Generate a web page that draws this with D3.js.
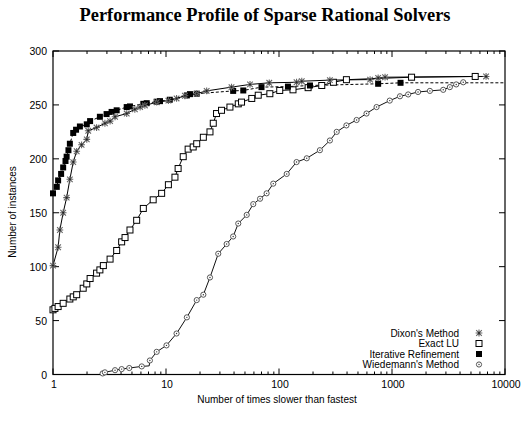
<!DOCTYPE html>
<html><head><meta charset="utf-8">
<script src="https://cdn.jsdelivr.net/npm/d3@7"></script>
<style>body{margin:0;background:#fff}svg{display:block}</style>
</head><body>
<svg id="c" width="530" height="421"></svg>
<script>
const title = "Performance Profile of Sparse Rational Solvers";
const xLabel = "Number of times slower than fastest";
const yLabel = "Number of instances";
const xTicks = [1, 10, 100, 1000, 10000];
const yTicks = [0, 50, 100, 150, 200, 250, 300];
const seriesNames = ["Dixon's Method", "Exact LU", "Iterative Refinement", "Wiedemann's Method"];

const dixonX = [1, 1.11, 1.15, 1.23, 1.32, 1.41, 1.51, 1.62, 1.79, 1.99, 2.05, 2.43, 2.88, 3.2, 3.54, 4.49, 5.3, 5.9, 6.5, 8.27, 10.5, 12.4, 14.7, 18.7, 22.9, 38, 55.4, 82, 143, 159, 282, 640, 754, 868, 6800];
const dixonY = [101, 118, 134, 150, 164, 181, 197, 207, 213, 218, 226, 229, 233, 235, 239, 242, 246, 248, 249.5, 252.5, 254, 256, 258.5, 260.5, 263, 266.5, 269, 270.5, 271, 272, 273, 273.5, 275, 275.7, 276.4];

const luX = [1, 1.04, 1.11, 1.23, 1.41, 1.51, 1.62, 1.85, 1.99, 2.13, 2.43, 2.6, 2.79, 3.2, 3.66, 4.05, 4.34, 4.8, 5.5, 6.3, 7.7, 9.15, 10.5, 12, 12.8, 14.2, 15.7, 17.4, 18.7, 21.4, 24.5, 26.2, 28, 31, 36.8, 43.6, 46.6, 57.4, 65.5, 83, 101.5, 133, 181, 239, 303, 395, 1490, 5450];
const luY = [60, 61.3, 63, 66, 70, 72, 74, 80, 84, 89, 94, 97, 101, 107, 115, 123, 127, 134, 143, 154, 162, 168, 176, 183, 191, 202, 209, 211, 214, 220, 225, 233, 242, 245, 248, 251, 252.6, 256, 259, 260.4, 263.4, 264, 266, 268, 271, 273.4, 275.7, 276.4];

const irX = [1, 1.08, 1.11, 1.18, 1.23, 1.29, 1.32, 1.37, 1.41, 1.51, 1.6, 1.73, 1.99, 2.13, 2.6, 2.98, 3.3, 3.66, 4.49, 4.8, 6.3, 6.75, 8.27, 8.85, 10.8, 15.3, 16.3, 18.7, 39.3, 48.3, 70, 120, 188, 754, 1190, 10000];
const irY = [168, 174, 180, 186, 192, 198, 202, 208, 214, 224, 227, 230, 232, 235, 239, 241.5, 243.5, 245, 248, 248.6, 251, 251.6, 253, 253.5, 254.8, 258.8, 260, 260.4, 263, 263.4, 266.5, 267, 268, 269.6, 270.5, 270.5];
const irMarkedCount = 35; // the final entry only ends the dashed line

const wiX = [2.75, 2.88, 3.54, 4.05, 4.73, 6.1, 7.1, 7.2, 8.27, 10.1, 12.4, 15.3, 18.7, 21.4, 24.5, 29, 34.4, 39.3, 43.6, 51.8, 59.2, 68, 77.7, 89, 117, 143, 176, 230, 282, 324, 395, 486, 595, 730, 955, 1176, 1390, 1700, 2165, 2840, 3250, 3700, 4270];
const wiY = [1, 2, 4, 5, 6, 7.5, 8, 13, 21, 27, 38, 53, 69, 74, 90, 112, 121, 128, 140, 148, 158, 163, 168, 177, 186, 197, 200.5, 208, 217, 225, 231, 236, 242, 248, 254, 258, 259.7, 262, 263, 264, 266.5, 269, 271];
const wiUnmarked = [6]; // corner of the flat stretch, no marker there

const svg = d3.select("#c");
const L = 53, R = 505, T = 51, B = 374.5;
const x = d3.scaleLog().domain([1, 10000]).range([L, R]);
const y = d3.scaleLinear().domain([0, 300]).range([B, T]);
const sans = "'Liberation Sans', Arial, Helvetica, sans-serif";

svg.append("text").attr("x", 265).attr("y", 21).attr("text-anchor", "middle")
  .attr("font-family", "'Liberation Serif', 'Times New Roman', serif").attr("font-weight", "bold")
  .attr("font-size", 18.4).text(title);

// frame
svg.append("rect").attr("x", L).attr("y", T).attr("width", R - L).attr("height", B - T)
  .attr("fill", "none").attr("stroke", "#000").attr("stroke-width", 1.2);

// ticks (inside, mirrored)
const minor = [];
for (let d = 1; d < 10000; d *= 10) for (let k = 2; k <= 9; k++) minor.push(d * k);
const tg = svg.append("g").attr("stroke", "#000").attr("stroke-width", 1);
minor.forEach(v => {
  tg.append("line").attr("x1", x(v)).attr("x2", x(v)).attr("y1", B).attr("y2", B - 3);
  tg.append("line").attr("x1", x(v)).attr("x2", x(v)).attr("y1", T).attr("y2", T + 3);
});
xTicks.forEach(v => {
  tg.append("line").attr("x1", x(v)).attr("x2", x(v)).attr("y1", B).attr("y2", B - 6);
  tg.append("line").attr("x1", x(v)).attr("x2", x(v)).attr("y1", T).attr("y2", T + 6);
});
yTicks.forEach(v => {
  tg.append("line").attr("x1", L).attr("x2", L + 6).attr("y1", y(v)).attr("y2", y(v));
  tg.append("line").attr("x1", R).attr("x2", R - 6).attr("y1", y(v)).attr("y2", y(v));
});
svg.append("g").selectAll("text").data(xTicks).join("text")
  .attr("x", d => x(d) + 1).attr("y", B + 13).attr("text-anchor", "middle")
  .attr("font-family", sans).attr("font-size", 10.5).text(d => d);
svg.append("g").selectAll("text").data(yTicks).join("text")
  .attr("x", L - 6).attr("y", d => y(d) + 4).attr("text-anchor", "end")
  .attr("font-family", sans).attr("font-size", 10.5).text(d => d);

svg.append("text").attr("x", 277).attr("y", 403).attr("text-anchor", "middle")
  .attr("font-family", sans).attr("font-size", 10).text(xLabel);
svg.append("text").attr("transform", "translate(16,212) rotate(-90)").attr("text-anchor", "middle")
  .attr("font-family", sans).attr("font-size", 10).text(yLabel);

const line = d3.line().x(d => x(d[0])).y(d => y(d[1]));
const zip = (a, b) => a.map((v, i) => [v, b[i]]);
const dixon = zip(dixonX, dixonY), lu = zip(luX, luY), ir = zip(irX, irY), wi = zip(wiX, wiY);

const plot = svg.append("g");
plot.append("path").datum(wi).attr("d", line).attr("fill", "none").attr("stroke", "#111").attr("stroke-width", 1);
plot.append("path").datum(ir).attr("d", line).attr("fill", "none").attr("stroke", "#000").attr("stroke-width", 1).attr("stroke-dasharray", "3,2");
plot.append("path").datum(lu).attr("d", line).attr("fill", "none").attr("stroke", "#000").attr("stroke-width", 1);
plot.append("path").datum(dixon).attr("d", line).attr("fill", "none").attr("stroke", "#000").attr("stroke-width", 1);

const markers = {
  star: (g, cx, cy) => {
    const s = 2.8;
    g.append("path").attr("d", `M${cx - s},${cy - s}L${cx + s},${cy + s}M${cx - s},${cy + s}L${cx + s},${cy - s}M${cx},${cy - s - 0.6}L${cx},${cy + s + 0.6}M${cx - s - 0.6},${cy}L${cx + s + 0.6},${cy}`)
      .attr("stroke", "#666").attr("stroke-width", 1.1).attr("fill", "none");
    g.append("circle").attr("cx", cx).attr("cy", cy).attr("r", 1).attr("fill", "#222");
  },
  box: (g, cx, cy) => {
    g.append("rect").attr("x", cx - 3).attr("y", cy - 3).attr("width", 6).attr("height", 6)
      .attr("fill", "#fff").attr("stroke", "#000").attr("stroke-width", 1);
  },
  fbox: (g, cx, cy) => {
    g.append("rect").attr("x", cx - 3).attr("y", cy - 3).attr("width", 6).attr("height", 6).attr("fill", "#000");
  },
  circ: (g, cx, cy) => {
    g.append("circle").attr("cx", cx).attr("cy", cy).attr("r", 2.6).attr("fill", "#fff").attr("stroke", "#555").attr("stroke-width", 1);
    g.append("circle").attr("cx", cx).attr("cy", cy).attr("r", 0.7).attr("fill", "#333");
  }
};
const mg = svg.append("g");
wi.forEach((d, i) => { if (!wiUnmarked.includes(i)) markers.circ(mg, x(d[0]), y(d[1])); });
lu.forEach(d => markers.box(mg, x(d[0]), y(d[1])));
ir.slice(0, irMarkedCount).forEach(d => markers.fbox(mg, x(d[0]), y(d[1])));
dixon.forEach(d => markers.star(mg, x(d[0]), y(d[1])));

// legend
const legY = [333, 343.5, 354, 364.5];
const legM = ["star", "box", "fbox", "circ"];
seriesNames.forEach((n, i) => {
  svg.append("text").attr("x", 459).attr("y", legY[i] + 3.5).attr("text-anchor", "end")
    .attr("font-family", sans).attr("font-size", 10).text(n);
  markers[legM[i]](svg, 479, legY[i]);
});
</script>
</body></html>
